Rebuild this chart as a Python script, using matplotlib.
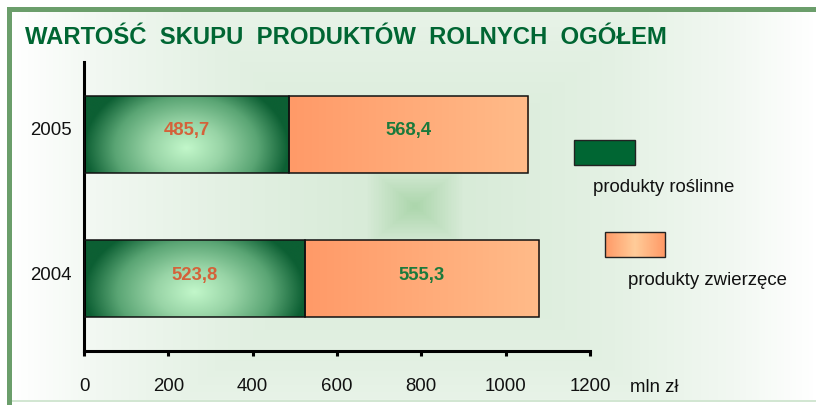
import numpy as np
import matplotlib
matplotlib.use('Agg')
import matplotlib.pyplot as plt
from matplotlib.colors import LinearSegmentedColormap
from matplotlib.patches import Rectangle

plt.rcParams['font.family'] = ['Liberation Sans', 'DejaVu Sans']

# ---- data ----
years = ['2004', '2005']
plant = [523.8, 485.7]
animal = [555.3, 568.4]
plant_labels = ['523,8', '485,7']
animal_labels = ['555,3', '568,4']
xticks = [0, 200, 400, 600, 800, 1000, 1200]
series_names = ['produkty roślinne', 'produkty zwierzęce']
title = 'WARTOŚĆ  SKUPU  PRODUKTÓW  ROLNYCH  OGÓŁEM'
unit = 'mln zł'

W, H = 816, 406
fig = plt.figure(figsize=(W / 100, H / 100), dpi=100)

# ---- background layer (pixel coordinates) ----
bg = fig.add_axes([0, 0, 1, 1])
bg.set_xlim(0, W)
bg.set_ylim(H, 0)
bg.axis('off')

x0, x1, y0, y1 = 12, W, 13, 402
xs = np.arange(x0, x1) + 0.5
ys = np.arange(y0, y1) + 0.5
X, Y = np.meshgrid(xs, ys)
cx, cy = 415, 207
tt = np.clip(np.maximum(np.abs(X - cx) / 400, np.abs(Y - cy) / 330), 0, 1)
bg_cmap = LinearSegmentedColormap.from_list(
    'bgc', [(0, '#acd6ac'), (0.12, '#d8ebd8'), (0.5, '#e4f1e4'),
            (0.8, '#f2f8f2'), (1.0, '#ffffff')])
bg.imshow(tt, cmap=bg_cmap, vmin=0, vmax=1, extent=(x0, x1, y1, y0),
          aspect='auto', zorder=0)
# frame
bg.add_patch(Rectangle((7, 8), W - 7, 5, color='#6b9e6b', zorder=1, lw=0))
bg.add_patch(Rectangle((7, 8), 5, H - 8, color='#6b9e6b', zorder=1, lw=0))
bg.add_patch(Rectangle((12, 401), W - 12, 2, color='#d2e6d2', zorder=1, lw=0))

# title
bg.text(25, 44, title, fontsize=17.2, fontweight='bold', color='#006633',
        ha='left', va='baseline')

# legend
bg.add_patch(Rectangle((574, 141), 61, 25, fc='#006633', ec='#222222',
                       lw=1.0, zorder=3))
bg.text(593, 192, series_names[0], fontsize=13.4, color='#111111',
        ha='left', va='baseline')
leg_grad = np.abs(np.linspace(-1, 1, 200))[None, :]
leg_cmap = LinearSegmentedColormap.from_list('lg', ['#ffcc99', '#ff9966'])
bg.imshow(leg_grad, cmap=leg_cmap, extent=(605, 665, 258, 233),
          aspect='auto', zorder=2)
bg.add_patch(Rectangle((605, 233), 60, 25, fc='none', ec='#222222',
                       lw=1.0, zorder=3))
bg.text(628, 285, series_names[1], fontsize=13.4, color='#111111',
        ha='left', va='baseline')
bg.text(630, 392, unit, fontsize=13.4, color='#111111',
        ha='left', va='baseline')
bg.set_xlim(0, W)
bg.set_ylim(H, 0)

# ---- main chart ----
ax = fig.add_axes([84 / W, (H - 352) / H, 506 / W, 289 / H])
ax.patch.set_alpha(0)

pos = np.arange(len(years))
hgt = 0.53
b1 = ax.barh(pos, plant, height=hgt, color='none', edgecolor='#111111',
             lw=1.1, zorder=3)
b2 = ax.barh(pos, animal, left=plant, height=hgt, color='none',
             edgecolor='#111111', lw=1.1, zorder=3)

gx = np.linspace(-1, 1, 300)
gy = np.linspace(-1, 1, 100)
GX, GY = np.meshgrid(gx, gy)
g_t = np.clip(np.sqrt(GX ** 2 + ((GY - 0.35) / 1.9) ** 2), 0, 1)
green_cmap = LinearSegmentedColormap.from_list(
    'gc', [(0, '#c2f7ca'), (0.35, '#98d4a6'), (0.7, '#5aa574'), (1, '#0c5f33')])
orange_cmap = LinearSegmentedColormap.from_list('oc', ['#ff9a68', '#ffbb89'])
o_t = np.linspace(0, 1, 300)[None, :]

for r in b1.patches:
    x, y = r.get_xy()
    ax.imshow(g_t, cmap=green_cmap, vmin=0, vmax=1,
              extent=(x, x + r.get_width(), y, y + r.get_height()),
              aspect='auto', zorder=2)
for r in b2.patches:
    x, y = r.get_xy()
    ax.imshow(o_t, cmap=orange_cmap, vmin=0, vmax=1,
              extent=(x, x + r.get_width(), y, y + r.get_height()),
              aspect='auto', zorder=2)

for r, lab in zip(b1.patches, plant_labels):
    ax.text(r.get_x() + r.get_width() / 2, r.get_y() + r.get_height() / 2, lab,
            ha='center', va='baseline', fontsize=13.3, fontweight='bold',
            color='#d4623a', zorder=4)
for r, lab in zip(b2.patches, animal_labels):
    ax.text(r.get_x() + r.get_width() / 2, r.get_y() + r.get_height() / 2, lab,
            ha='center', va='baseline', fontsize=13.3, fontweight='bold',
            color='#1b7a3c', zorder=4)

ax.set_xlim(xticks[0], xticks[-1])
ax.set_ylim(-0.5, len(years) - 0.5)
ax.set_aspect('auto')

for s in ['top', 'right']:
    ax.spines[s].set_visible(False)
for s in ['left', 'bottom']:
    ax.spines[s].set_linewidth(2.2)
    ax.spines[s].set_color('black')

ax.set_xticks(xticks)
ax.set_xticklabels([str(v) for v in xticks])
ax.tick_params(axis='x', length=3.5, width=2.2, pad=15, labelsize=13.4,
               labelcolor='#111111')
ax.set_yticks(pos)
ax.set_yticklabels(years)
ax.tick_params(axis='y', length=0, pad=8.6, labelsize=13.4, labelcolor='#111111')
for lbl in ax.get_yticklabels():
    lbl.set_va('baseline')

fig.savefig('out.png', dpi=100)
